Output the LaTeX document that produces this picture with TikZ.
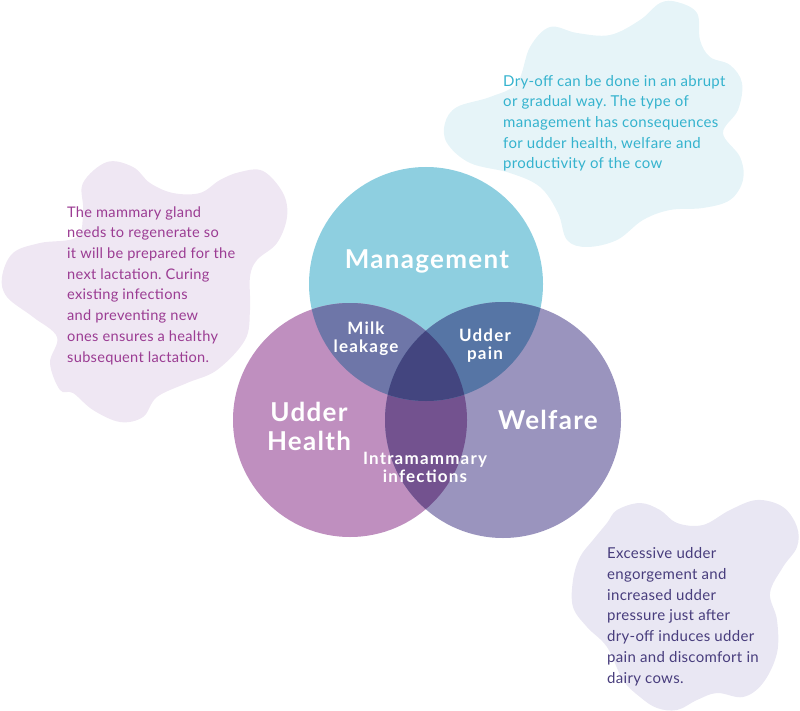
\documentclass[tikz,border=0pt]{standalone}
\usepackage{fontspec}
\setmainfont{Lato}
\frenchspacing
\definecolor{cM}{HTML}{8ECFE0}
\definecolor{cH}{HTML}{BF8FBF}
\definecolor{cW}{HTML}{9A94BE}
\definecolor{cMH}{HTML}{6E76A8}
\definecolor{cMW}{HTML}{5675A5}
\definecolor{cHW}{HTML}{73528F}
\definecolor{cMHW}{HTML}{43457F}
\definecolor{blobTR}{HTML}{E6F4F8}
\definecolor{blobL}{HTML}{EFE7F3}
\definecolor{blobBR}{HTML}{E9E7F3}
\definecolor{txtTR}{HTML}{35B3CE}
\definecolor{txtL}{HTML}{9B3C93}
\definecolor{txtBR}{HTML}{483D7D}
\tikzset{
  bodytext/.style={anchor=base west, align=left, inner sep=0pt,
    font=\fontsize{15}{20.7}\selectfont\frenchspacing\addfontfeature{LetterSpace=2}},
  bodytextsmall/.style={bodytext,
    font=\fontsize{14.6}{20.7}\selectfont\frenchspacing\addfontfeature{LetterSpace=2}},
  biglabel/.style={text=white, align=center, inner sep=0pt,
    font=\fontsize{26}{29}\selectfont\bfseries\addfontfeature{LetterSpace=5}},
  smalllabel/.style={text=white, align=center, inner sep=0pt,
    font=\fontsize{17}{18}\selectfont\bfseries\addfontfeature{LetterSpace=7}},
  blobshape/.style={smooth cycle, tension=0.6}
}
\begin{document}
\begin{tikzpicture}[x=1pt,y=-1pt]
\useasboundingbox (0,0) rectangle (800,711);
% blobs
\fill[blobTR] plot[blobshape] coordinates {(677,2) (697,13) (700,40) (710,57) (730,65) (742,83) (738,110) (723,133) (740,157) (743,180) (730,200) (703,208) (670,210) (643,220) (617,240) (587,247) (567,240) (558,213) (540,187) (510,173) (470,163) (447,143) (445,123) (457,107) (490,97) (517,83) (530,47) (550,27) (577,33) (610,35) (640,20) (660,3)};
\fill[blobL] plot[blobshape] coordinates {(83,183) (107,162) (133,167) (150,183) (173,193) (200,193) (220,180) (240,172) (263,171) (283,193) (287,217) (277,243) (257,260) (250,277) (250,310) (245,340) (217,370) (187,383) (157,397) (143,417) (120,422) (93,410) (73,393) (60,390) (50,363) (57,337) (33,317) (7,297) (2,277) (13,253) (40,243) (77,237) (83,210)};
\fill[blobBR] plot[blobshape] coordinates {(617,510) (640,503) (660,510) (677,523) (703,525) (730,510) (757,500) (783,507) (797,527) (797,547) (783,567) (770,593) (777,620) (777,653) (763,683) (743,697) (717,693) (697,700) (677,710) (657,708) (640,697) (623,680) (607,647) (587,627) (573,607) (573,580) (580,557) (593,540) (607,523)};
% circles
\fill[cM] (426,284) circle[radius=117];
\fill[cH] (350,420) circle[radius=117];
\fill[cW] (503,420) circle[radius=118];
\begin{scope}
  \clip (350,420) circle[radius=117];
  \fill[cHW] (503,420) circle[radius=118];
\end{scope}
\begin{scope}
  \clip (426,284) circle[radius=117];
  \fill[cMH] (350,420) circle[radius=117];
  \fill[cMW] (503,420) circle[radius=118];
  \clip (350,420) circle[radius=117];
  \fill[cMHW] (503,420) circle[radius=118];
\end{scope}
% circle labels
\node[biglabel] (management) at (427,261) {Management};
\node[biglabel] (udderhealth) at (309,426) {Udder\\Health};
\node[biglabel] (welfare) at (548,420) {Welfare};
\node[smalllabel] (milk) at (366,339) {Milk\\leakage};
\node[smalllabel] (udderpain) at (485,346) {Udder\\pain};
\node[smalllabel] (intra) at (425,467) {Intramammary\\infections};
% body texts (anchored at the baseline of the last line)
\node[bodytext, text=txtTR] (tTR) at (503,169) {Dry-off can be done in an abrupt\\or gradual way. The type of\\management has consequences\\for udder health, welfare and\\productivity of the cow};
\node[bodytextsmall, text=txtL] (tL) at (67,362) {The mammary gland\\needs to regenerate so\\it will be prepared for the\\next lactation. Curing\\existing infections\\and preventing new\\ones ensures a healthy\\subsequent lactation.};
\node[bodytext, text=txtBR] (tBR) at (607,683) {Excessive udder\\engorgement and\\increased udder\\pressure just after\\dry-off induces udder\\pain and discomfort in\\dairy cows.};
\end{tikzpicture}
\end{document}
